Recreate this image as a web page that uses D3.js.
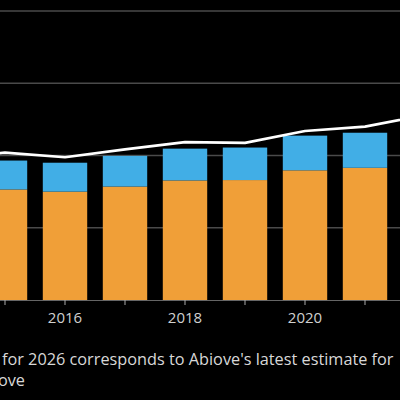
<!DOCTYPE html>
<html><head><meta charset="utf-8">
<script src="https://cdn.jsdelivr.net/npm/d3@7/dist/d3.min.js"></script>
<style>html,body{margin:0;padding:0;background:#000;}svg{display:block;}</style>
</head><body>
<svg id="chart" width="400" height="400"></svg>
<script>
const years = [2014, 2015, 2016, 2017, 2018, 2019, 2020, 2021, 2022];
const meal = [29.0, 30.6, 30.0, 31.4, 33.1, 33.2, 35.9, 36.6, 38.0];
const oil = [7.7, 8.0, 8.0, 8.5, 8.8, 9.0, 9.6, 9.7, 10.0];
const crush = [39.0, 40.8, 39.5, 41.7, 43.7, 43.5, 46.8, 48.0, 51.2];
const yTicks = [0, 20, 40, 60, 80];
const tickLabelYears = [2016, 2018, 2020];
const notePrefix = "Note: Volume ";
const noteText = "for 2026 corresponds to Abiove's latest estimate for";
const sourceText = "Source: Abiove";

const FONT = "'Open Sans', sans-serif";
const svg = d3.select("#chart");
svg.append("rect").attr("width", 400).attr("height", 400).attr("fill", "#000");

const x = d3.scaleBand().domain(years).range([-85, 455]).paddingInner(0.26).paddingOuter(0.13);
const y = d3.scaleLinear().domain([0, 80]).range([300, 11]);

// gridlines
svg.append("g").selectAll("line").data(yTicks.filter(d => d > 0)).join("line")
  .attr("x1", 0).attr("x2", 400)
  .attr("y1", d => y(d)).attr("y2", d => y(d))
  .attr("stroke", "#4a4a4a").attr("stroke-width", 1.5);

// bars
const g = svg.append("g");
g.selectAll("rect.meal").data(years).join("rect").attr("class", "meal")
  .attr("x", d => x(d)).attr("width", x.bandwidth())
  .attr("y", (d, i) => y(meal[i])).attr("height", (d, i) => y(0) - y(meal[i]))
  .attr("fill", "#f09f38");
g.selectAll("rect.oil").data(years).join("rect").attr("class", "oil")
  .attr("x", d => x(d)).attr("width", x.bandwidth())
  .attr("y", (d, i) => y(meal[i] + oil[i])).attr("height", (d, i) => y(meal[i]) - y(meal[i] + oil[i]))
  .attr("fill", "#41aee6");

// line
const line = d3.line().x((d, i) => x(years[i]) + x.bandwidth() / 2).y(d => y(d));
svg.append("path").datum(crush).attr("d", line)
  .attr("fill", "none").attr("stroke", "#fff").attr("stroke-width", 2.6).attr("stroke-linejoin", "round");

// x axis
const axis = d3.axisBottom(x).tickSize(5).tickFormat(d => tickLabelYears.includes(d) ? d : "");
const ax = svg.append("g").attr("transform", "translate(0,300)").call(axis);
ax.select(".domain").attr("stroke", "#666").attr("stroke-width", 1);
ax.selectAll(".tick line").attr("stroke", "#aaa");
ax.selectAll(".tick text").attr("fill", "#d0d0d0").attr("font-family", FONT)
  .attr("font-size", "15px").attr("dy", "1.0em");

// footnote: fit visible part to reference width
function measure(str, size) {
  const t = svg.append("text").attr("font-family", FONT).attr("font-size", size + "px").text(str);
  const w = t.node().getComputedTextLength();
  t.remove();
  return w;
}
let fs = 15;
fs = fs * 392 / measure(noteText, fs);
const preW = measure(notePrefix + "x", fs) - measure("x", fs);
svg.append("text").attr("x", 2 - preW).attr("y", 365).attr("fill", "#d8d8d8")
  .attr("font-family", FONT).attr("font-size", fs + "px").text(notePrefix + noteText);
svg.append("text").attr("x", 25).attr("y", 386).attr("text-anchor", "end").attr("fill", "#d8d8d8")
  .attr("font-family", FONT).attr("font-size", fs + "px").text(sourceText);
</script>
</body></html>
